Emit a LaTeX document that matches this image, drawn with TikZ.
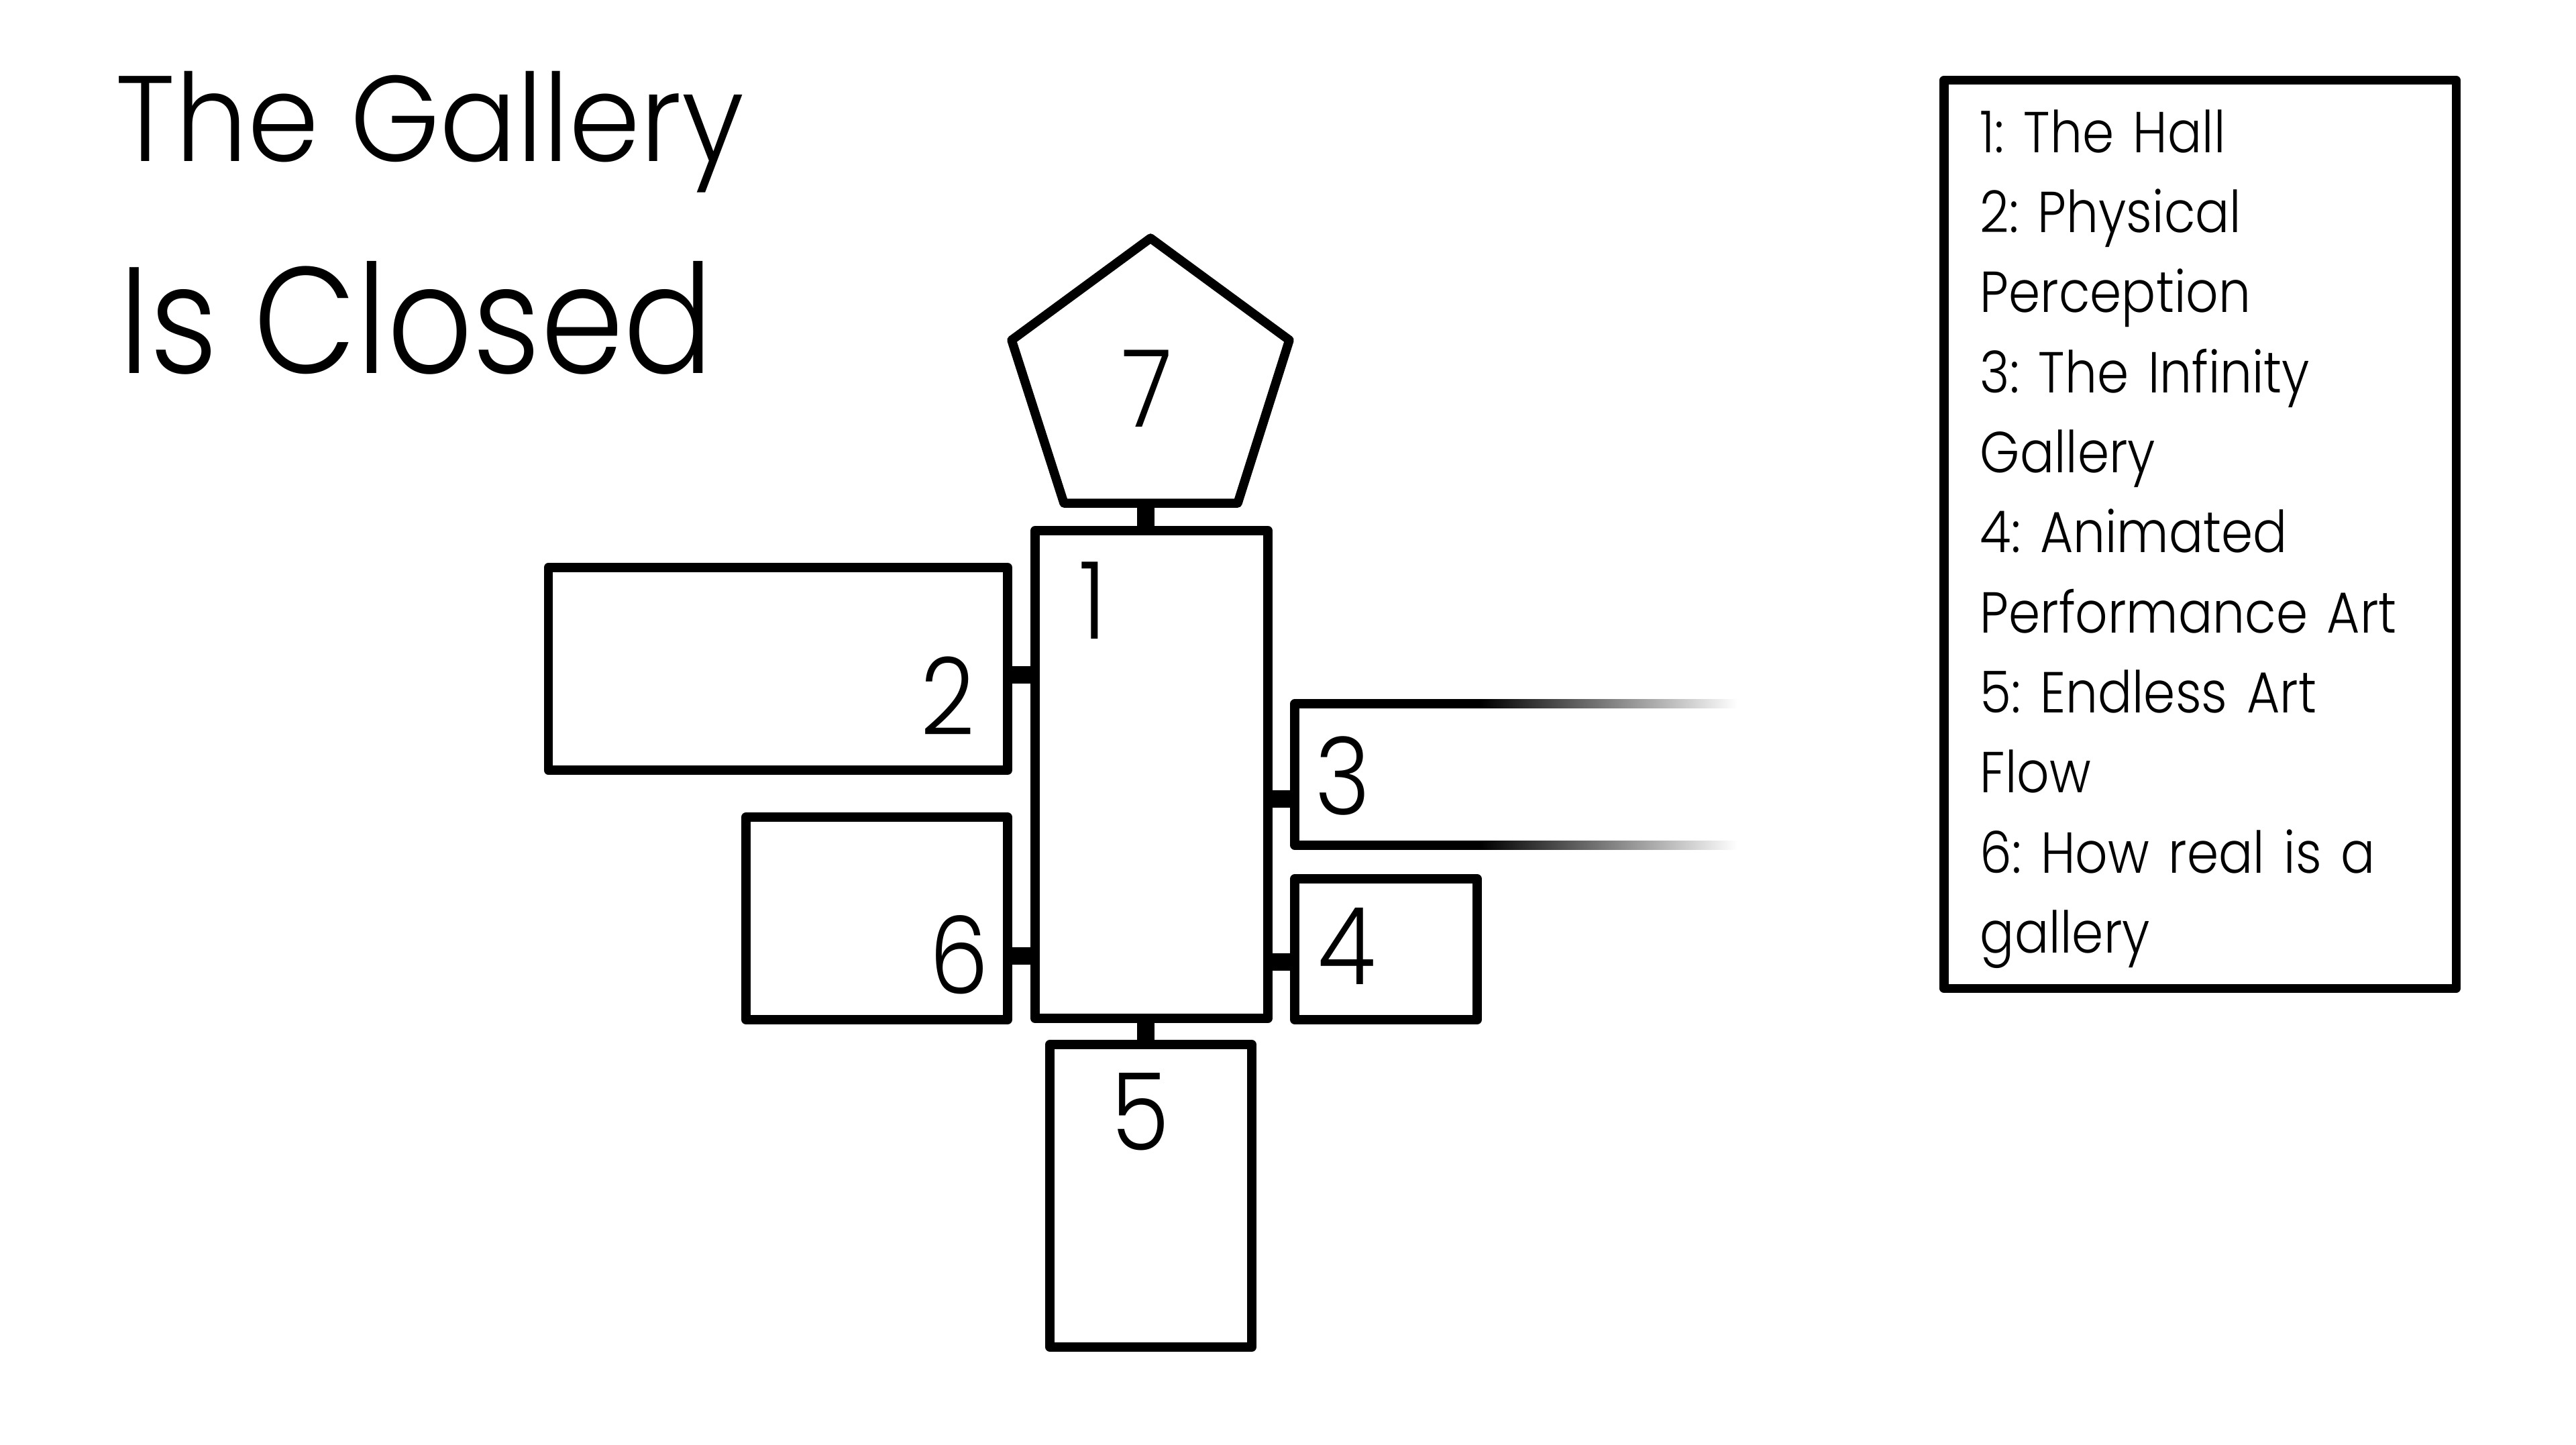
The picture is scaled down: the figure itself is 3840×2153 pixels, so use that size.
\documentclass[tikz,border=0pt]{standalone}
\usepackage{fontspec}
\setmainfont{Poppins}[UprightFont=* Light,FakeStretch=0.88]
\newfontfamily\titlefont{Poppins}[UprightFont=* Light,FakeStretch=0.94]
\usetikzlibrary{calc,positioning}
\tikzset{%
	room/.style     = {draw, rectangle, line width=1.35mm, line join=round, outer sep=0pt, inner sep=0pt}, % Gallery room
	door/.style     = {line width=2.6mm}, % Passage between rooms
	wall/.style     = {line width=1.35mm, line join=round},
	fade/.style     = {left color=black, right color=white, draw=none},
	number/.style   = {anchor=base west, inner sep=0pt, font=\fontsize{45.5}{50}\selectfont},
	headline/.style = {anchor=base west, inner sep=0pt},
	legend/.style   = {inner sep=0pt, align=left, text width=6.55cm, font=\fontsize{24.5}{33.94}\selectfont\frenchspacing},
}
\begin{document}
\begin{tikzpicture}[x=0.01cm,y=-0.01cm]
	\useasboundingbox (0,0) rectangle (3840,2153);
	\node [headline,font=\titlefont\fontsize{51.6}{55}\selectfont] (title) at (172,240) {The Gallery};
	\node [headline,font=\fontsize{64.2}{68}\selectfont] (subtitle) at (177,556) {Is Closed};

	\node [room,minimum width=3.47cm,minimum height=7.27cm] (r1) at (1716.5,1154.5) {};
	\node [room,minimum width=6.845cm,minimum height=3.02cm] (r2) at (1159.75,997) {};
	\node [room,minimum width=3.9cm,minimum height=3.02cm] (r6) at (1307,1369) {};
	\node [room,minimum width=2.72cm,minimum height=2.1cm] (r4) at (2066,1415) {};
	\node [room,minimum width=3.01cm,minimum height=4.51cm] (r5) at (1715.5,1782.5) {};

	% room 3 runs off to the right
	\coordinate (r3a) at (2207,1049);
	\coordinate (r3b) at (1930,1049);
	\coordinate (r3c) at (1930,1260);
	\coordinate (r3d) at (2207,1260);
	\draw [wall] (r3a) -- (r3b) -- (r3c) -- (r3d);
	\fill [fade] ($(r3a)+(0,-6.75)$) rectangle ($(r3a)+(383,6.75)$);
	\fill [fade] ($(r3d)+(0,-6.75)$) rectangle ($(r3d)+(383,6.75)$);

	% room 7
	\coordinate (r7a) at (1715,355);
	\coordinate (r7b) at (1922,507);
	\coordinate (r7c) at (1845,750);
	\coordinate (r7d) at (1586,750);
	\coordinate (r7e) at (1508,507);
	\draw [wall] (r7a) -- (r7b) -- (r7c) -- (r7d) -- (r7e) -- cycle;

	\node [number] (n1) at (1608,952) {1};
	\node [number] (n2) at (1372,1095) {2};
	\node [number] (n3) at (1960,1214) {3};
	\node [number] (n4) at (1964,1467) {4};
	\node [number] (n5) at (1656,1714) {5};
	\node [number] (n6) at (1385,1481) {6};
	\node [number] (n7) at (1672,636) {7};

	\coordinate (d2) at (0,1006);
	\coordinate (d3) at (0,1191);
	\coordinate (d4) at (0,1434);
	\coordinate (d6) at (0,1425);
	\coordinate (d5) at (1708,0);
	\draw [door] (r2.east |- d2) -- (r1.west |- d2);
	\draw [door] (r6.east |- d6) -- (r1.west |- d6);
	\draw [door] (r1.east |- d3) -- (r3b |- d3);
	\draw [door] (r1.east |- d4) -- (r4.west |- d4);
	\draw [door] (r1.south -| d5) -- (r5.north -| d5);
	\draw [door] (r7c -| d5) -- (r1.north -| d5);

	\node [room,minimum width=7.63cm,minimum height=13.53cm] (key) at (3279.5,796.5) {};
	\node [legend] (keytext) at ($(key.center)+(0,7)$) {1: The Hall\\2: Physical\\Perception\\3: The Infinity\\Gallery\\4: Animated\\Performance Art\\5: Endless Art\\Flow\\6: How real is a\\gallery};
\end{tikzpicture}
\end{document}
